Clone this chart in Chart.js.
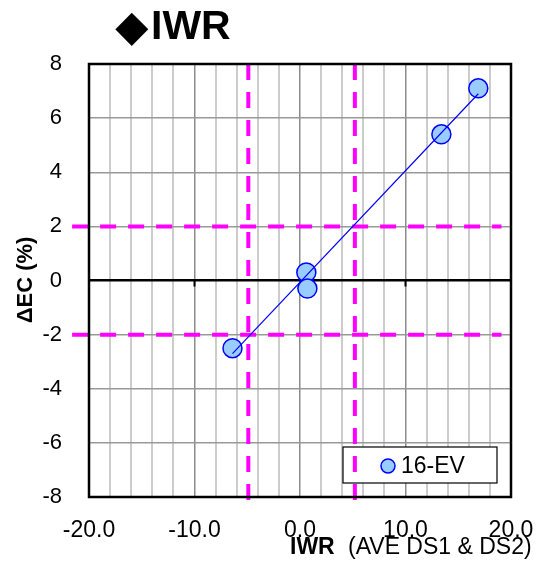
<!DOCTYPE html>
<html>
<head>
<meta charset="utf-8">
<title>IWR</title>
<script src="https://cdn.jsdelivr.net/npm/chart.js@4/dist/chart.umd.min.js"></script>
<style>
  html, body { margin: 0; padding: 0; background: #ffffff; }
  canvas { display: block; }
</style>
</head>
<body>
<canvas id="chart" width="541" height="568"></canvas>
<script>
// Measured samples (x: IWR, y: ΔEC %)
const seriesName = '16-EV';
const iwrValues = [16.9, 13.4, 0.6, 0.7, -6.4];
const dEcValues = [7.1, 5.4, 0.3, -0.3, -2.5];

// Linear trend line end points
const trendX = [-6.4, 16.9];
const trendY = [-2.7, 6.9];

// Threshold guides
const iwrLimits = [-4.9, 5.2];
const dEcLimits = [-2, 2];
const guideSpanX = [-21.6, 19.1];
const guideSpanY = [8, -8.4];

// Axis ranges and labelled ticks
const xRange = [-20, 20];
const yRange = [-8, 8];
const xLabelTicks = [-20, -10, 0, 10, 20];

const FONT = '"Liberation Sans", Arial, Helvetica, sans-serif';
const MAGENTA = '#FF00FF';

const pts = iwrValues.map((x, i) => ({ x: x, y: dEcValues[i] }));
const trend = trendX.map((x, i) => ({ x: x, y: trendY[i] }));

const guideSets = [];
iwrLimits.forEach(v => guideSets.push({
  type: 'line',
  data: [{ x: v, y: guideSpanY[0] }, { x: v, y: guideSpanY[1] }],
  borderColor: MAGENTA, borderWidth: 4, borderDash: [16, 12],
  pointRadius: 0, clip: false, order: 5
}));
dEcLimits.forEach(v => guideSets.push({
  type: 'line',
  data: [{ x: guideSpanX[0], y: v }, { x: guideSpanX[1], y: v }],
  borderColor: MAGENTA, borderWidth: 4, borderDash: [16, 12],
  pointRadius: 0, clip: false, order: 5
}));

// Frame, zero line ticks, titles and legend box
const decorations = {
  id: 'decorations',
  beforeDatasetsDraw(chart) {
    const { ctx, scales: { x, y } } = chart;
    ctx.save();
    // zero line tick marks
    ctx.strokeStyle = '#000';
    ctx.lineWidth = 2;
    [-10, 10].forEach(v => {
      const px = x.getPixelForValue(v);
      ctx.beginPath();
      ctx.moveTo(px, y.getPixelForValue(0));
      ctx.lineTo(px, y.getPixelForValue(0) + 6);
      ctx.stroke();
    });
    // legend box
    const ds = chart.data.datasets.find(d => d.label === seriesName);
    const bx = 343, by = 447, bw = 154, bh = 36;
    ctx.fillStyle = '#fff';
    ctx.fillRect(bx, by, bw, bh);
    ctx.strokeStyle = '#000';
    ctx.lineWidth = 1.2;
    ctx.strokeRect(bx, by, bw, bh);
    ctx.beginPath();
    ctx.arc(388, 466, 7, 0, Math.PI * 2);
    ctx.fillStyle = ds.backgroundColor;
    ctx.fill();
    ctx.strokeStyle = ds.borderColor;
    ctx.lineWidth = 1.5;
    ctx.stroke();
    ctx.fillStyle = '#000';
    ctx.font = '23px ' + FONT;
    ctx.textBaseline = 'middle';
    ctx.textAlign = 'left';
    ctx.fillText(ds.label, 401, 467);
    ctx.restore();
  },
  afterDraw(chart) {
    const { ctx, chartArea: a } = chart;
    ctx.save();
    // plot frame
    ctx.strokeStyle = '#000';
    ctx.lineWidth = 2.5;
    ctx.strokeRect(a.left, a.top, a.right - a.left, a.bottom - a.top);
    // main title
    ctx.fillStyle = '#000';
    ctx.textBaseline = 'alphabetic';
    ctx.textAlign = 'left';
    ctx.font = 'bold 41px ' + FONT;
    ctx.fillText('\u25C6', 116, 40);
    ctx.fillText('IWR', 151, 39);
    // x axis title
    ctx.font = 'bold 23px ' + FONT;
    ctx.fillText('IWR', 290, 554);
    ctx.font = '23px ' + FONT;
    ctx.fillText('(AVE DS1 & DS2)', 348, 554);
    // y axis title
    ctx.translate(32, 280);
    ctx.rotate(-Math.PI / 2);
    ctx.textAlign = 'center';
    ctx.font = 'bold 22px ' + FONT;
    ctx.fillText('\u0394EC (%)', 0, 0);
    ctx.restore();
  }
};

new Chart(document.getElementById('chart'), {
  type: 'scatter',
  data: {
    datasets: [
      {
        type: 'line',
        label: 'trend',
        data: trend,
        borderColor: '#0000FF',
        borderWidth: 1.2,
        pointRadius: 0,
        order: 1
      },
      {
        label: seriesName,
        data: pts,
        showLine: false,
        pointRadius: 9.5,
        pointHoverRadius: 9.5,
        backgroundColor: '#99CCFF',
        borderColor: '#0000FF',
        borderWidth: 1.5,
        order: 2
      },
      ...guideSets
    ]
  },
  options: {
    responsive: false,
    animation: false,
    layout: { padding: { top: 64, right: 30, left: 0, bottom: 0 } },
    plugins: {
      legend: { display: false },
      title: { display: false },
      tooltip: { enabled: false }
    },
    scales: {
      x: {
        type: 'linear',
        min: xRange[0], max: xRange[1],
        afterFit(s) {
          s.height = 71;
          s.paddingLeft = 0;
          s.paddingRight = 0;
        },
        border: { display: false },
        grid: {
          drawTicks: false,
          color: c => (c.tick.value % 10 === 0 ? '#8c8c8c' : '#cccccc'),
          lineWidth: c => (c.tick.value % 10 === 0 ? 1.5 : 2)
        },
        ticks: {
          stepSize: 2,
          autoSkip: false,
          maxRotation: 0,
          padding: 20,
          color: '#000',
          font: { family: FONT, size: 23 },
          callback: v => (xLabelTicks.includes(v) ? v.toFixed(1) : '')
        }
      },
      y: {
        type: 'linear',
        min: yRange[0], max: yRange[1],
        afterFit(s) {
          s.width = 89;
          s.paddingTop = 0;
          s.paddingBottom = 0;
        },
        border: { display: false },
        grid: {
          drawTicks: false,
          color: c => (c.tick.value === 0 ? '#000' : '#999999'),
          lineWidth: c => (c.tick.value === 0 ? 2.5 : 1.5)
        },
        ticks: {
          stepSize: 2,
          padding: 27,
          color: '#000',
          font: { family: FONT, size: 22 }
        }
      }
    }
  },
  plugins: [decorations]
});
</script>
</body>
</html>
